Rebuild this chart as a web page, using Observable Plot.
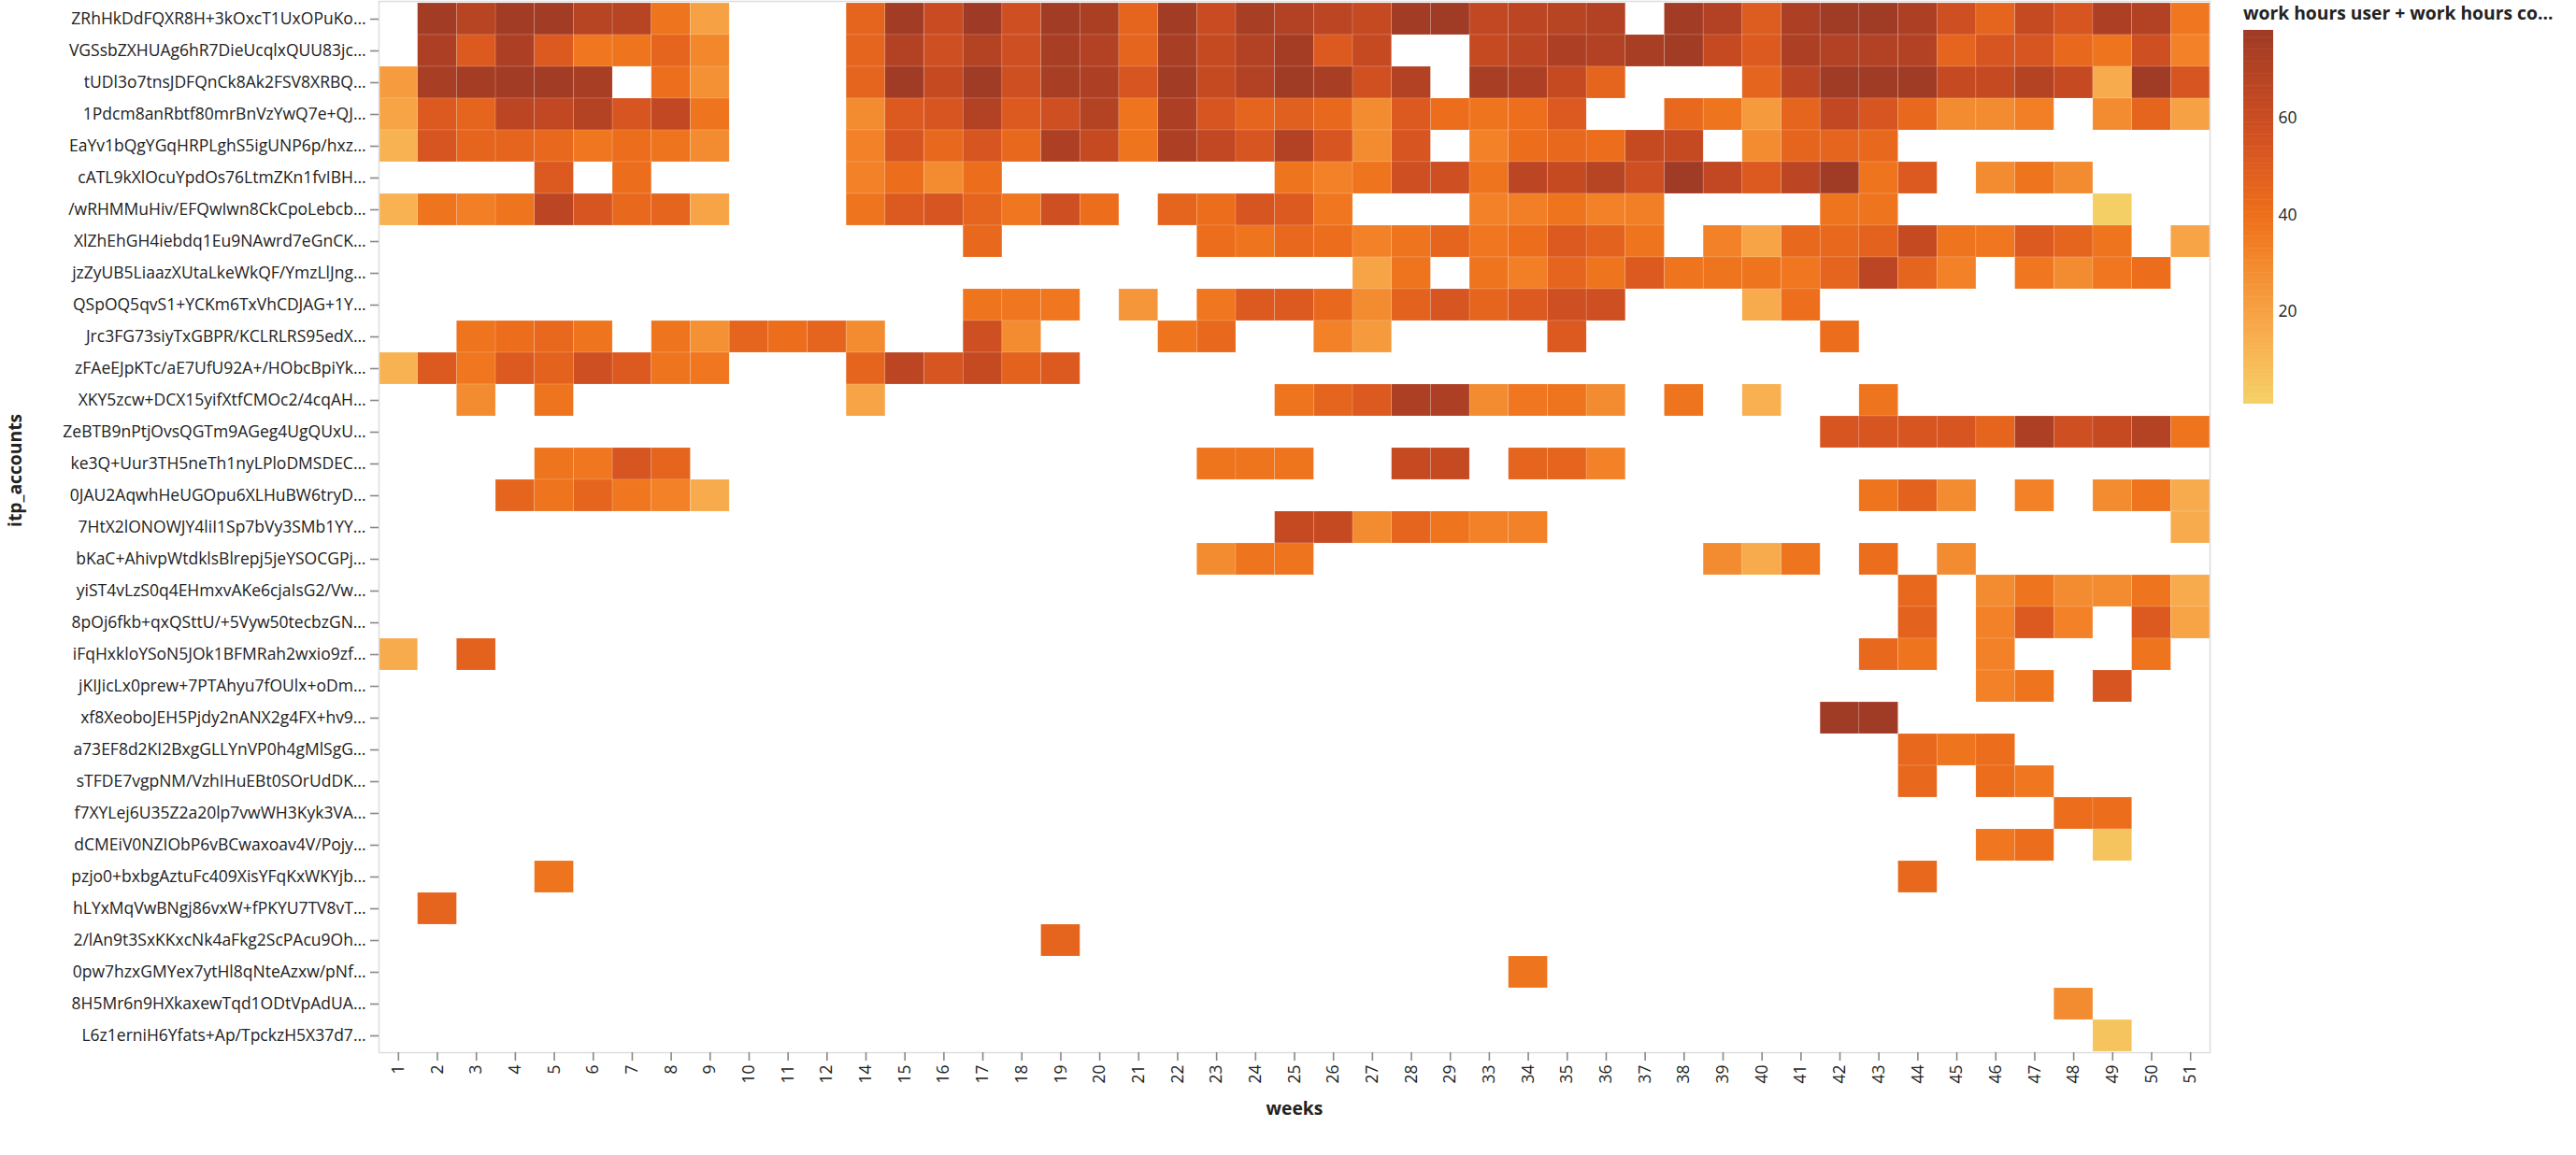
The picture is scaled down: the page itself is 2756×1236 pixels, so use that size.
<!DOCTYPE html>
<html>
<head>
<meta charset="utf-8">
<script src="https://cdn.jsdelivr.net/npm/d3@7"></script>
<script src="https://cdn.jsdelivr.net/npm/@observablehq/plot@0.6"></script>
<style>
  html, body { margin: 0; padding: 0; background: #fff; }
  #page { position: relative; width: 2756px; height: 1236px; overflow: hidden; }
  #chart { position: absolute; left: 0; top: 0; }
  #legend { position: absolute; left: 2380px; top: 0; }
  #legend-title { position: absolute; left: 2400px; top: 0px; font: 700 19.3px "Open Sans", sans-serif; color: #222; white-space: nowrap; line-height: normal; }
</style>
</head>
<body>
<div id="page">
  <div id="chart"></div>
  <div id="legend"></div>
  <div id="legend-title">work hours user + work hours co…</div>
</div>
<script>
const _ = null;

// y categories (truncated account ids, as shown)
const accounts = [
  "ZRhHkDdFQXR8H+3kOxcT1UxOPuKo…",
  "VGSsbZXHUAg6hR7DieUcqlxQUU83jc…",
  "tUDl3o7tnsJDFQnCk8Ak2FSV8XRBQ…",
  "1Pdcm8anRbtf80mrBnVzYwQ7e+QJ…",
  "EaYv1bQgYGqHRPLghS5igUNP6p/hxz…",
  "cATL9kXlOcuYpdOs76LtmZKn1fvIBH…",
  "/wRHMMuHiv/EFQwIwn8CkCpoLebcb…",
  "XlZhEhGH4iebdq1Eu9NAwrd7eGnCK…",
  "jzZyUB5LiaazXUtaLkeWkQF/YmzLlJng…",
  "QSpOQ5qvS1+YCKm6TxVhCDJAG+1Y…",
  "Jrc3FG73siyTxGBPR/KCLRLRS95edX…",
  "zFAeEJpKTc/aE7UfU92A+/HObcBpiYk…",
  "XKY5zcw+DCX15yifXtfCMOc2/4cqAH…",
  "ZeBTB9nPtjOvsQGTm9AGeg4UgQUxU…",
  "ke3Q+Uur3TH5neTh1nyLPloDMSDEC…",
  "0JAU2AqwhHeUGOpu6XLHuBW6tryD…",
  "7HtX2lONOWJY4liI1Sp7bVy3SMb1YY…",
  "bKaC+AhivpWtdklsBlrepj5jeYSOCGPj…",
  "yiST4vLzS0q4EHmxvAKe6cjaIsG2/Vw…",
  "8pOj6fkb+qxQSttU/+5Vyw50tecbzGN…",
  "iFqHxkloYSoN5JOk1BFMRah2wxio9zf…",
  "jKIJicLx0prew+7PTAhyu7fOUlx+oDm…",
  "xf8XeoboJEH5Pjdy2nANX2g4FX+hv9…",
  "a73EF8d2KI2BxgGLLYnVP0h4gMlSgG…",
  "sTFDE7vgpNM/VzhIHuEBt0SOrUdDK…",
  "f7XYLej6U35Z2a20lp7vwWH3Kyk3VA…",
  "dCMEiV0NZIObP6vBCwaxoav4V/Pojy…",
  "pzjo0+bxbgAztuFc409XisYFqKxWKYjb…",
  "hLYxMqVwBNgj86vxW+fPKYU7TV8vT…",
  "2/lAn9t3SxKKxcNk4aFkg2ScPAcu9Oh…",
  "0pw7hzxGMYex7ytHl8qNteAzxw/pNf…",
  "8H5Mr6n9HXkaxewTqd1ODtVpAdUA…",
  "L6z1erniH6Yfats+Ap/TpckzH5X37d7…"
];

// x categories (weeks present in the data)
const weeks = [1,2,3,4,5,6,7,8,9,10,11,12,
  14,15,16,17,18,19,20,21,22,23,24,25,26,27,28,29,
  33,34,35,36,37,38,39,40,41,42,43,44,45,46,47,48,49,50,51];

// work hours, one row per account, one entry per week (null = no data)
//            weeks 1..12                          | weeks 14..29                                           | weeks 33..51
const hours = [
  [_,76,68,76, 76,68,68,38, 20,_,_,_,   45,76,61,78, 58,76,73,45, 76,61,74,70, 66,62,76,77,   64,66,68,70, _,76,70,50, 72,77,77,72, 58,45,62,54, 72,70,37],
  [_,72,51,72, 51,37,38,45, 31,_,_,_,   45,70,58,69, 58,74,70,45, 74,62,70,75, 51,62,_,_,     62,66,72,70, 74,76,62,51, 72,70,70,70, 45,54,54,43, 38,58,33],
  [22,74,75,76, 76,74,_,40, 27,_,_,_,   45,77,62,77, 58,74,72,54, 76,62,70,77, 74,57,70,_,    74,72,62,45, _,_,_,45, 66,77,77,77, 62,62,69,62, 16,77,54],
  [19,51,45,66, 64,69,54,64, 38,_,_,_,  29,51,54,70, 51,58,69,38, 72,54,45,48, 43,29,51,41,   38,40,51,_, _,43,38,23, 45,64,54,43, 29,29,34,_, 29,45,20],
  [13,54,45,45, 43,37,41,38, 29,_,_,_,  33,54,43,54, 43,72,62,38, 72,64,54,70, 54,29,54,_,    33,41,43,41, 62,62,_,29, 45,45,43,_, _,_,_,_, _,_,_],
  [_,_,_,_, 51,_,41,_, _,_,_,_,         33,41,29,41, _,_,_,_, _,_,_,38, 33,38,58,58,          38,66,62,68, 58,77,64,51, 66,77,38,51, _,29,38,29, _,_,_],
  [13,38,34,38, 66,54,43,45, 19,_,_,_,  38,51,54,45, 37,58,41,_, 45,41,54,51, 37,_,_,_,       33,34,38,33, 34,_,_,_, _,38,38,_, _,_,_,_, 2,_,_],
  [_,_,_,_, _,_,_,_, _,_,_,_,           _,_,_,43, _,_,_,_, _,41,38,43, 41,33,38,45,           37,41,51,47, 38,_,33,19, 43,43,47,62, 38,37,51,45, 38,_,19],
  [_,_,_,_, _,_,_,_, _,_,_,_,           _,_,_,_, _,_,_,_, _,_,_,_, _,19,38,_,                 38,34,45,38, 51,38,38,38, 37,45,66,45, 33,_,37,29, 37,41,_],
  [_,_,_,_, _,_,_,_, _,_,_,_,           _,_,_,38, 37,37,_,25, _,37,51,51, 43,29,47,54,        45,51,58,58, _,_,_,16, 40,_,_,_, _,_,_,_, _,_,_],
  [_,_,38,41, 43,38,_,38, 27,45,41,45,  29,_,_,58, 29,_,_,_, 38,43,_,_, 33,23,_,_,            _,_,51,_, _,_,_,_, _,41,_,_, _,_,_,_, _,_,_],
  [13,51,37,51, 47,58,51,38, 37,_,_,_,  45,66,54,62, 47,51,_,_, _,_,_,_, _,_,_,_,             _,_,_,_, _,_,_,_, _,_,_,_, _,_,_,_, _,_,_],
  [_,_,29,_, 38,_,_,_, _,_,_,_,         19,_,_,_, _,_,_,_, _,_,_,38, 45,51,72,72,             29,37,38,29, _,38,_,14, _,_,38,_, _,_,_,_, _,_,_],
  [_,_,_,_, _,_,_,_, _,_,_,_,           _,_,_,_, _,_,_,_, _,_,_,_, _,_,_,_,                   _,_,_,_, _,_,_,_, _,54,54,54, 54,45,72,58, 62,69,38],
  [_,_,_,_, 38,37,54,45, _,_,_,_,       _,_,_,_, _,_,_,_, _,38,38,38, _,_,62,62,              _,45,45,33, _,_,_,_, _,_,_,_, _,_,_,_, _,_,_],
  [_,_,_,45, 38,45,37,33, 16,_,_,_,     _,_,_,_, _,_,_,_, _,_,_,_, _,_,_,_,                   _,_,_,_, _,_,_,_, _,_,38,47, 29,_,33,_, 29,38,16],
  [_,_,_,_, _,_,_,_, _,_,_,_,           _,_,_,_, _,_,_,_, _,_,_,62, 62,29,45,38,              33,33,_,_, _,_,_,_, _,_,_,_, _,_,_,_, _,_,16],
  [_,_,_,_, _,_,_,_, _,_,_,_,           _,_,_,_, _,_,_,_, _,29,38,38, _,_,_,_,                _,_,_,_, _,_,29,16, 38,_,41,_, 29,_,_,_, _,_,_],
  [_,_,_,_, _,_,_,_, _,_,_,_,           _,_,_,_, _,_,_,_, _,_,_,_, _,_,_,_,                   _,_,_,_, _,_,_,_, _,_,_,43, _,29,38,29, 29,38,16],
  [_,_,_,_, _,_,_,_, _,_,_,_,           _,_,_,_, _,_,_,_, _,_,_,_, _,_,_,_,                   _,_,_,_, _,_,_,_, _,_,_,47, _,33,51,33, _,51,19],
  [16,_,47,_, _,_,_,_, _,_,_,_,         _,_,_,_, _,_,_,_, _,_,_,_, _,_,_,_,                   _,_,_,_, _,_,_,_, _,_,43,38, _,33,_,_, _,38,_],
  [_,_,_,_, _,_,_,_, _,_,_,_,           _,_,_,_, _,_,_,_, _,_,_,_, _,_,_,_,                   _,_,_,_, _,_,_,_, _,_,_,_, _,33,38,_, 54,_,_],
  [_,_,_,_, _,_,_,_, _,_,_,_,           _,_,_,_, _,_,_,_, _,_,_,_, _,_,_,_,                   _,_,_,_, _,_,_,_, _,77,77,_, _,_,_,_, _,_,_],
  [_,_,_,_, _,_,_,_, _,_,_,_,           _,_,_,_, _,_,_,_, _,_,_,_, _,_,_,_,                   _,_,_,_, _,_,_,_, _,_,_,43, 38,41,_,_, _,_,_],
  [_,_,_,_, _,_,_,_, _,_,_,_,           _,_,_,_, _,_,_,_, _,_,_,_, _,_,_,_,                   _,_,_,_, _,_,_,_, _,_,_,43, _,41,37,_, _,_,_],
  [_,_,_,_, _,_,_,_, _,_,_,_,           _,_,_,_, _,_,_,_, _,_,_,_, _,_,_,_,                   _,_,_,_, _,_,_,_, _,_,_,_, _,_,_,41, 41,_,_],
  [_,_,_,_, _,_,_,_, _,_,_,_,           _,_,_,_, _,_,_,_, _,_,_,_, _,_,_,_,                   _,_,_,_, _,_,_,_, _,_,_,_, _,37,41,_, 6,_,_],
  [_,_,_,_, 38,_,_,_, _,_,_,_,          _,_,_,_, _,_,_,_, _,_,_,_, _,_,_,_,                   _,_,_,_, _,_,_,_, _,_,_,43, _,_,_,_, _,_,_],
  [_,45,_,_, _,_,_,_, _,_,_,_,          _,_,_,_, _,_,_,_, _,_,_,_, _,_,_,_,                   _,_,_,_, _,_,_,_, _,_,_,_, _,_,_,_, _,_,_],
  [_,_,_,_, _,_,_,_, _,_,_,_,           _,_,_,_, _,45,_,_, _,_,_,_, _,_,_,_,                  _,_,_,_, _,_,_,_, _,_,_,_, _,_,_,_, _,_,_],
  [_,_,_,_, _,_,_,_, _,_,_,_,           _,_,_,_, _,_,_,_, _,_,_,_, _,_,_,_,                   _,38,_,_, _,_,_,_, _,_,_,_, _,_,_,_, _,_,_],
  [_,_,_,_, _,_,_,_, _,_,_,_,           _,_,_,_, _,_,_,_, _,_,_,_, _,_,_,_,                   _,_,_,_, _,_,_,_, _,_,_,_, _,_,_,29, _,_,_],
  [_,_,_,_, _,_,_,_, _,_,_,_,           _,_,_,_, _,_,_,_, _,_,_,_, _,_,_,_,                   _,_,_,_, _,_,_,_, _,_,_,_, _,_,_,_, 6,_,_]
];

// legend ticks and colour scheme (Vega "goldred")
const legendTicks = [20, 40, 60];
const colorDomain = [1, 78];
const goldred = ["#f4d166","#f6c760","#f8bc58","#f8b252","#f7a84a","#f69e41","#f49538","#f38b2f","#f28026","#f0751e",
                 "#eb6c1c","#e4641e","#de5d1f","#d75521","#cf4f22","#c64a22","#bc4623","#b24223","#a83e24","#9e3a26"];

hours.forEach((row, i) => { if (row.length !== weeks.length) throw new Error("row " + i + " has " + row.length); });

const cells = [];
accounts.forEach((a, i) => weeks.forEach((w, j) => {
  const v = hours[i][j];
  if (v != null) cells.push({account: a, week: w, hours: v});
}));

const FONT = '"Open Sans", "Noto Sans", sans-serif';
const colorScale = {type: "linear", domain: colorDomain, interpolate: d3.piecewise(d3.interpolateRgb, goldred)};

const chart = Plot.plot({
  width: 2380,
  height: 1236,
  marginLeft: 405,
  marginRight: 16,
  marginTop: 1,
  marginBottom: 110,
  style: {fontFamily: FONT, fontSize: "17.5px", color: "#222", background: "transparent"},
  x: {type: "band", domain: weeks, padding: 0},
  y: {type: "band", domain: accounts, padding: 0},
  color: colorScale,
  marks: [
    Plot.cell(cells, {x: "week", y: "account", fill: "hours", inset: 0, stroke: "#fff", strokeOpacity: 0.25, strokeWidth: 0.6}),
    Plot.frame({stroke: "#ddd", strokeWidth: 1.5}),
    Plot.axisX({tickRotate: -90, tickSize: 9, tickPadding: 4, stroke: "#888", strokeWidth: 1.6, line: true, label: null, fontSize: 17.5}),
    Plot.axisY({tickSize: 9, tickPadding: 5, stroke: "#888", strokeWidth: 1.6, line: true, label: null, fontSize: 17.5}),
    Plot.text(["weeks"], {text: d => d, frameAnchor: "bottom", dy: 60, lineAnchor: "middle", fontWeight: "bold", fontSize: 19.3, fill: "#222"}),
    Plot.text(["itp_accounts"], {text: d => d, frameAnchor: "left", dx: -389, rotate: -90, lineAnchor: "middle", fontWeight: "bold", fontSize: 19.3, fill: "#222"})
  ]
});
document.getElementById("chart").appendChild(chart);

const legendStops = d3.range(colorDomain[0], colorDomain[1], 0.5);
const legend = Plot.plot({
  width: 376,
  height: 450,
  marginLeft: 20,
  marginRight: 324,
  marginTop: 32,
  marginBottom: 18,
  style: {fontFamily: FONT, fontSize: "17.5px", color: "#222", background: "transparent"},
  y: {domain: colorDomain},
  color: colorScale,
  marks: [
    Plot.rect(legendStops, {y1: d => d, y2: d => Math.min(colorDomain[1], d + 0.6), fill: d => d + 0.25}),
    Plot.axisY({anchor: "right", ticks: legendTicks, tickSize: 0, tickPadding: 5, label: null, fontSize: 17.5})
  ]
});
document.getElementById("legend").appendChild(legend);
</script>
</body>
</html>
